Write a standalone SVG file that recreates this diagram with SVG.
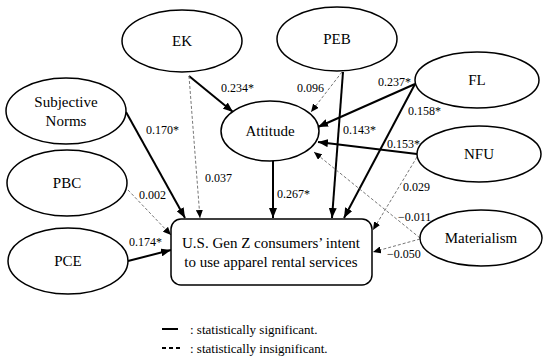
<svg xmlns="http://www.w3.org/2000/svg" width="550" height="364" viewBox="0 0 550 364" font-family="Liberation Serif, Times New Roman, serif">
<defs>
<marker id="ah" viewBox="0 0 10 8" refX="10" refY="4" markerWidth="10" markerHeight="8" markerUnits="userSpaceOnUse" orient="auto"><path d="M0,0 L10,4 L0,8 z" fill="#000"/></marker>
<marker id="ahd" viewBox="0 0 8 7" refX="8" refY="3.5" markerWidth="8" markerHeight="7" markerUnits="userSpaceOnUse" orient="auto"><path d="M0,0 L8,3.5 L0,7 z" fill="#000"/></marker>
</defs>
<style>
.n{fill:#fff;stroke:#000;stroke-width:1.5}
.t{font-size:15px;fill:#000;text-anchor:middle}
.l{font-size:12px;fill:#000}
.s{stroke:#000;stroke-width:2;fill:none;marker-end:url(#ah)}
.d{stroke:#777;stroke-width:1;stroke-dasharray:3,2;fill:none;marker-end:url(#ahd)}
.lg{font-size:13px;fill:#000}
</style>
<rect width="550" height="364" fill="#fff"/>
<g id="connectors">
<line class="s" x1="189" y1="76" x2="233" y2="112"/>
<line class="d" x1="189" y1="76" x2="200" y2="218"/>
<line class="s" x1="126" y1="112" x2="185" y2="218"/>
<line class="d" x1="128" y1="190" x2="171" y2="235"/>
<line class="s" x1="128" y1="261" x2="171" y2="250"/>
<line class="s" x1="273" y1="160" x2="273" y2="218"/>
<line class="d" x1="342" y1="72" x2="311" y2="112"/>
<line class="s" x1="343" y1="72" x2="332" y2="218"/>
<line class="s" x1="415" y1="84" x2="318" y2="127"/>
<line class="s" x1="415" y1="84" x2="344" y2="218"/>
<line class="s" x1="417" y1="154" x2="318" y2="142"/>
<line class="d" x1="417" y1="157" x2="373" y2="230"/>
<line class="d" x1="420" y1="238" x2="314" y2="152"/>
<line class="d" x1="420" y1="239" x2="373" y2="252"/>
</g>
<g id="EK"><ellipse class="n" cx="182" cy="41" rx="60" ry="31"/><text class="t" x="182" y="46" font-family="Liberation Serif">EK</text></g>
<g id="PEB"><ellipse class="n" cx="337" cy="39" rx="60" ry="32"/><text class="t" x="337" y="44">PEB</text></g>
<g id="SN"><ellipse class="n" cx="66" cy="111" rx="60" ry="33"/><text class="t" x="66" y="107">Subjective</text><text class="t" x="66" y="126">Norms</text></g>
<g id="Attitude"><ellipse class="n" cx="270" cy="131" rx="49" ry="30"/><text class="t" x="270" y="136">Attitude</text></g>
<g id="FL"><ellipse class="n" cx="477" cy="80" rx="62" ry="28"/><text class="t" x="477" y="85">FL</text></g>
<g id="NFU"><ellipse class="n" cx="479" cy="154" rx="62" ry="28"/><text class="t" x="479" y="159">NFU</text></g>
<g id="PBC"><ellipse class="n" cx="67" cy="183" rx="60" ry="33"/><text class="t" x="67" y="188">PBC</text></g>
<g id="PCE"><ellipse class="n" cx="68" cy="261" rx="60" ry="33"/><text class="t" x="68" y="266">PCE</text></g>
<g id="Materialism"><ellipse class="n" cx="481" cy="238" rx="61" ry="28"/><text class="t" x="481" y="243">Materialism</text></g>
<g id="Intent"><rect class="n" x="171" y="219" width="201" height="66" rx="10"/><text class="t" x="271" y="248">U.S. Gen Z consumers’ intent</text><text class="t" x="271" y="267">to use apparel rental services</text></g>
<g id="labels">
<text class="l" x="221" y="92">0.234*</text>
<text class="l" x="205" y="182">0.037</text>
<text class="l" x="146" y="134">0.170*</text>
<text class="l" x="139" y="199">0.002</text>
<text class="l" x="129" y="246">0.174*</text>
<text class="l" x="277" y="198">0.267*</text>
<text class="l" x="297" y="92">0.096</text>
<text class="l" x="343" y="134">0.143*</text>
<text class="l" x="378" y="86">0.237*</text>
<text class="l" x="408" y="115">0.158*</text>
<text class="l" x="387" y="148">0.153*</text>
<text class="l" x="403" y="191">0.029</text>
<text class="l" x="398" y="221">−0.011</text>
<text class="l" x="387" y="258">−0.050</text>
</g>
<g id="legend">
<line x1="162" y1="329" x2="178" y2="329" stroke="#000" stroke-width="2"/>
<line x1="162" y1="348" x2="180" y2="348" stroke="#000" stroke-width="2" stroke-dasharray="4,3"/>
<text class="lg" x="190" y="334">: statistically significant.</text>
<text class="lg" x="190" y="353">: statistically insignificant.</text>
</g>
</svg>
